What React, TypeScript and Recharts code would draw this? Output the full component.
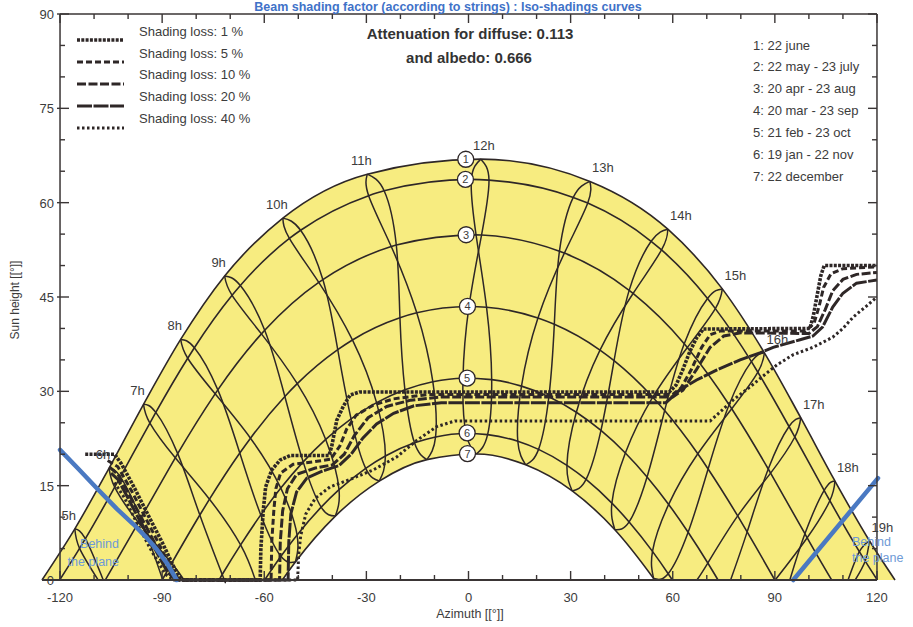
import React from "react";
import { ComposedChart, Area, Line, Scatter, XAxis, YAxis, ReferenceLine, ReferenceDot } from "recharts";

type P = [number, number]; // [azimuth °, sun height °]

// ---- sun path (date) curves ----
const curve1: P[] = [[-125.3,0],[-115.65,8.14],[-105.58,17.8],[-95.47,27.94],[-84.56,38.25],[-71.64,48.34],[-54.54,57.54],[-29.74,64.53],[3.63,66.92],[35.67,63.38],[58.56,55.78],[74.57,46.29],[86.93,36.12],[97.6,25.81],[107.65,15.75],[117.78,6.24],[125.3,0]];
const curve2: P[] = [[-120.11,0],[-114.26,5.03],[-112.55,6.57],[-103.94,14.77],[-102.27,16.41],[-93.6,24.96],[-91.86,26.65],[-82.49,35.26],[-80.53,36.93],[-69.45,45.27],[-67.03,46.83],[-52.62,54.31],[-49.32,55.61],[-29.33,61.11],[-24.79,61.89],[0.85,63.7],[6.02,63.59],[30.77,60.84],[35.03,59.93],[53.65,53.86],[56.71,52.48],[70.22,44.76],[72.52,43.15],[83.12,34.72],[85.01,33.04],[94.16,24.41],[95.87,22.74],[104.48,14.24],[106.15,12.61],[114.82,4.52],[116.55,3.01],[120.11,0]];
const curve3: P[] = [[-106.69,0],[-96.98,9.13],[-96.3,9.78],[-86.14,19.43],[-85.43,20.09],[-74.43,29.6],[-73.64,30.23],[-60.83,39.14],[-59.87,39.71],[-43.99,47.33],[-42.79,47.77],[-22.7,53.03],[-21.21,53.27],[2.22,54.88],[3.83,54.85],[26.72,52.28],[28.17,51.98],[47.2,46.05],[48.34,45.56],[63.38,37.56],[64.29,36.97],[76.56,27.87],[77.33,27.23],[88.06,17.65],[88.75,17.0],[98.83,7.36],[99.5,6.71],[106.69,0]];
const curve4: P[] = [[-90,0],[-87.21,2.65],[-78.93,10.33],[-76.09,12.85],[-67.19,20.19],[-64.05,22.55],[-53.95,29.18],[-50.31,31.22],[-38.41,36.63],[-34.1,38.17],[-20.14,41.7],[-15.2,42.48],[0.14,43.5],[5.3,43.38],[20.4,41.65],[25.21,40.65],[38.63,36.55],[42.76,34.87],[54.13,29.07],[57.62,26.94],[67.36,20.07],[70.39,17.66],[79.08,10.19],[81.86,7.65],[90,0]];
const curve5: P[] = [[-73.31,0],[-72.35,0.87],[-66.95,5.58],[-61.03,10.35],[-55.14,14.61],[-48.57,18.78],[-41.95,22.35],[-34.5,25.63],[-27.01,28.2],[-18.69,30.26],[-10.48,31.53],[-1.62,32.09],[6.81,31.86],[15.57,30.83],[23.61,29.14],[31.68,26.68],[38.91,23.78],[46.08,20.2],[52.46,16.39],[58.81,12.02],[64.52,7.59],[70.3,2.7],[73.31,0]];
const curve6: P[] = [[-59.89,0],[-55.1,3.77],[-50.36,7.16],[-43.28,11.58],[-38.04,14.36],[-30.2,17.76],[-24.42,19.72],[-15.87,21.81],[-9.67,22.75],[-0.72,23.3],[5.61,23.11],[14.48,22.06],[20.58,20.77],[28.92,18.24],[34.54,15.99],[42.12,12.23],[47.19,9.23],[54.05,4.55],[58.66,1.0],[59.89,0]];
const curve7: P[] = [[-54.7,0],[-50.86,2.86],[-39.12,10.16],[-26.21,15.73],[-12.23,19.14],[2.34,20.03],[16.8,18.31],[30.47,14.16],[43.0,7.99],[54.39,0.23],[54.7,0]];
const dateCurves = [curve1, curve2, curve3, curve4, curve5, curve6, curve7];

// ---- hour lines, December -> June branch ----
const hourLinesDecJun: P[][] = [
  [[-107.3,0],[-112.55,6.57],[-115.65,8.14]],
  [[-89.86,0.07],[-96.3,9.78],[-102.27,16.41],[-105.58,17.8]],
  [[-71.75,0],[-72.35,0.87],[-78.93,10.33],[-85.43,20.09],[-91.86,26.65],[-95.47,27.94]],
  [[-50.86,2.86],[-55.1,3.77],[-61.03,10.35],[-67.19,20.19],[-73.64,30.23],[-80.53,36.93],[-84.56,38.25]],
  [[-39.12,10.16],[-43.28,11.58],[-48.57,18.78],[-53.95,29.18],[-59.87,39.71],[-67.03,46.83],[-71.64,48.34]],
  [[-26.21,15.73],[-30.2,17.76],[-34.5,25.63],[-38.41,36.63],[-42.79,47.77],[-49.32,55.61],[-54.54,57.54]],
  [[-12.23,19.14],[-15.87,21.81],[-18.69,30.26],[-20.14,41.7],[-21.21,53.27],[-24.79,61.89],[-29.74,64.53]],
  [[2.34,20.03],[-0.72,23.3],[-1.62,32.09],[0.14,43.5],[3.83,54.85],[6.02,63.59],[3.63,66.92]],
  [[16.8,18.31],[14.48,22.06],[15.57,30.83],[20.4,41.65],[28.17,51.98],[35.03,59.93],[35.67,63.38]],
  [[30.47,14.16],[28.92,18.24],[31.68,26.68],[38.63,36.55],[48.34,45.56],[56.71,52.48],[58.56,55.78]],
  [[43.0,7.99],[42.12,12.23],[46.08,20.2],[54.13,29.07],[64.29,36.97],[72.52,43.15],[74.57,46.29]],
  [[54.39,0.23],[54.05,4.55],[58.81,12.02],[67.36,20.07],[77.33,27.23],[85.01,33.04],[86.93,36.12]],
  [[67.1,0],[70.3,2.7],[79.08,10.19],[88.75,17.0],[95.87,22.74],[97.6,25.81]],
  [[90.1,0],[99.5,6.71],[106.15,12.61],[107.65,15.75]],
  [[113.6,0],[116.55,3.01],[117.78,6.24]],
];
// ---- hour lines, June -> December branch ----
const hourLinesJunDec: P[][] = [
  [[-115.65,8.14],[-114.26,5.03],[-108.8,0]],
  [[-105.58,17.8],[-103.94,14.77],[-96.98,9.13],[-87.21,2.65],[-83.6,0]],
  [[-95.47,27.94],[-93.6,24.96],[-86.14,19.43],[-76.09,12.85],[-66.95,5.58],[-62.6,0]],
  [[-84.56,38.25],[-82.49,35.26],[-74.43,29.6],[-64.05,22.55],[-55.14,14.61],[-50.36,7.16],[-50.86,2.86]],
  [[-71.64,48.34],[-69.45,45.27],[-60.83,39.14],[-50.31,31.22],[-41.95,22.35],[-38.04,14.36],[-39.12,10.16]],
  [[-54.54,57.54],[-52.62,54.31],[-43.99,47.33],[-34.1,38.17],[-27.01,28.2],[-24.42,19.72],[-26.21,15.73]],
  [[-29.74,64.53],[-29.33,61.11],[-22.7,53.03],[-15.2,42.48],[-10.48,31.53],[-9.67,22.75],[-12.23,19.14]],
  [[3.63,66.92],[0.85,63.7],[2.22,54.88],[5.3,43.38],[6.81,31.86],[5.61,23.11],[2.34,20.03]],
  [[35.67,63.38],[30.77,60.84],[26.72,52.28],[25.21,40.65],[23.61,29.14],[20.58,20.77],[16.8,18.31]],
  [[58.56,55.78],[53.65,53.86],[47.2,46.05],[42.76,34.87],[38.91,23.78],[34.54,15.99],[30.47,14.16]],
  [[74.57,46.29],[70.22,44.76],[63.38,37.56],[57.62,26.94],[52.46,16.39],[47.19,9.23],[43.0,7.99]],
  [[86.93,36.12],[83.12,34.72],[76.56,27.87],[70.39,17.66],[64.52,7.59],[58.66,1.0],[54.39,0.23]],
  [[97.6,25.81],[94.16,24.41],[88.06,17.65],[81.86,7.65],[77.0,0]],
  [[107.65,15.75],[104.48,14.24],[98.83,7.36],[94.4,0]],
  [[117.78,6.24],[114.82,4.52],[111.5,0]],
];

// ---- iso-shading curves ----
const loss1: P[] = [[-112.6,20],[-104,20],[-102,18.5],[-98,14.5],[-94,10.2],[-90,6],[-86.5,2],[-84.3,0],[-61.2,0],[-61,5],[-60.3,11],[-59.6,14.8],[-57.8,17.5],[-55.3,19.1],[-52.4,19.8],[-41,19.8],[-40.2,21.2],[-38.7,25.4],[-36.8,27.6],[-34.8,29.4],[-32,29.9],[59,29.9],[61,31],[63,33.5],[65,36.3],[67,38.5],[69,39.9],[100.3,40],[101.3,42],[102.4,45.2],[103.5,48.4],[104.5,50],[120,50]];
const loss5: P[] = [[-106,19],[-103,18],[-99,14.2],[-95,10],[-91,5.8],[-87.5,2],[-85,0],[-58,0],[-57.8,6],[-57.2,11],[-56.6,14.5],[-55.2,17],[-51.5,18.4],[-45.5,18.8],[-40.5,19.2],[-37.8,21.3],[-35.8,24],[-33,26.2],[-28,27.8],[-22,28.8],[-12,29.5],[60,29.5],[62.5,30.6],[65.5,33.5],[68.5,37],[71,39],[74,39.6],[99,39.6],[101.5,40.8],[103,43.5],[104.3,46.5],[106.5,48.7],[110,49.5],[120,49.8]];
const loss10: P[] = [[-105.5,18],[-103,16.8],[-99.5,13.4],[-95.5,9.3],[-91.5,5.2],[-88,1.6],[-85.5,0],[-55.5,0],[-55.3,6],[-54.6,11],[-53.2,14.5],[-50.5,16.8],[-45,17.8],[-40,18.3],[-36.5,20],[-33.5,23],[-29.5,25.8],[-24,27.6],[-17,28.6],[-8,29.1],[60,29.1],[63,30.2],[67,33.5],[71,37],[75,38.8],[80,39.3],[100,39.2],[102.5,40.3],[104.8,43],[107,46],[110,47.8],[114,48.6],[120,48.9]];
const loss20: P[] = [[-105,17],[-103,16],[-100,13],[-96,8.8],[-92,4.8],[-88.5,1.3],[-86,0],[-53,0],[-52.8,6],[-52.2,10.5],[-50.5,14],[-47.5,16.2],[-43,17.3],[-38,18.2],[-34.5,20],[-31,22.6],[-27,24.8],[-22,26.5],[-16,27.7],[-8,28.2],[58,28.2],[62,30.2],[67,31.8],[73,33.4],[79.8,35],[85.6,36.1],[89.5,37],[97.4,38.2],[101.2,38.8],[104,40.2],[107,43.4],[110,45.6],[114,47.2],[120,47.7]];
const loss40: P[] = [[-104,15.5],[-101,13],[-97,8.6],[-93,4.5],[-89,0.9],[-86.5,0],[-50.2,0],[-49.9,4],[-49.3,7],[-47.8,10.5],[-45,13],[-40.7,14.8],[-34.8,16],[-28,17.5],[-21,19.6],[-15.2,22.2],[-9.3,24.4],[-4,25.3],[71,25.3],[74.5,27],[77.7,28.6],[82.7,30.7],[87.6,32.9],[90.6,34.2],[95.3,35.8],[101.2,37],[107,38.6],[110,40],[113,41.8],[117,43.6],[120,45]];
const lossCurves = [loss1, loss5, loss10, loss20, loss40];
const lossLabels = ["Shading loss: 1 %", "Shading loss: 5 %", "Shading loss: 10 %", "Shading loss: 20 %", "Shading loss: 40 %"];

// ---- "behind the plane" limits ----
const planeLeft: P[] = [[-120,20.7],[-114.5,17.6],[-109.2,14.6],[-103.3,11.3],[-98.5,8.9],[-94.5,6.7],[-91.5,4.8],[-88.5,2.6],[-85.7,0]];
const planeRight: P[] = [[95.4,0],[120.3,16.2]];

// ---- labels ----
const hourNames = ["5h","6h","7h","8h","9h","10h","11h","12h","13h","14h","15h","16h","17h","18h","19h"];
const hourAnchors: P[] = [[-115.65,8.14],[-105.58,17.8],[-95.47,27.94],[-84.56,38.25],[-71.64,48.34],[-54.54,57.54],[-29.74,64.53],[3.63,66.92],[35.67,63.38],[58.56,55.78],[74.57,46.29],[86.93,36.12],[97.6,25.81],[107.65,15.75],[117.78,6.24]];
const circleNames = ["1","2","3","4","5","6","7"];
const circlePoints: P[] = [[-0.8,66.9],[-0.9,63.7],[-0.7,54.9],[-0.3,43.5],[-0.4,32.1],[-0.4,23.4],[-0.3,20.1]];
const dateLabels = ["1: 22 june","2: 22 may - 23 july","3: 20 apr - 23 aug","4: 20 mar - 23 sep","5: 21 feb - 23 oct","6: 19 jan - 22 nov","7: 22 december"];
const xTicks = [-120,-110,-100,-90,-80,-70,-60,-50,-40,-30,-20,-10,0,10,20,30,40,50,60,70,80,90,100,110,120];
const yTicks = [0,5,10,15,20,25,30,35,40,45,50,55,60,65,70,75,80,85,90];

const FONT = "'Liberation Sans', Arial, Helvetica, sans-serif";
const DARK = "#2e2727";
const AXIS = "#3a3535";
const TXT = "#3c3c3c";
const YELLOW = "#f7ec80";
const BLUE = "#4a79c2";
const lossStyles = [
  { w: 3.6, dash: "3 1.3" },
  { w: 3, dash: "6 3" },
  { w: 3, dash: "9 2.5" },
  { w: 3, dash: "15 1.5" },
  { w: 3, dash: "2.5 2.5" },
];

const rows = (pts: P[]) => pts.map(([az, alt]) => ({ az, alt }));

const BottomTick = (props: any) => {
  const { x, y, payload } = props;
  const v = Number(payload.value);
  const major = v % 30 === 0;
  return (
    <g>
      <line x1={x} x2={x} y1={y} y2={y - (major ? 9 : 5)} stroke={AXIS} strokeWidth={1.4} />
      {major ? (
        <text x={x} y={y + 22} textAnchor="middle" fontSize={13} fontFamily={FONT} fill={TXT}>{v}</text>
      ) : null}
    </g>
  );
};

const HourLabel = (props: any) => {
  const { cx, cy, payload } = props;
  const az = payload.az;
  const dx = az < -20 ? -6 : az < 20 ? 3 : 13;
  return (
    <text x={cx + dx} y={cy - 9} textAnchor="middle" fontSize={13} fontFamily={FONT} fill={TXT}>{payload.name}</text>
  );
};

const CircleLabel = (props: any) => {
  const { cx, cy, payload } = props;
  return (
    <g>
      <circle cx={cx} cy={cy} r={8} fill="#ffffff" stroke={DARK} strokeWidth={1.3} />
      <text x={cx} y={cy + 4} textAnchor="middle" fontSize={11} fontFamily={FONT} fill={TXT}>{payload.name}</text>
    </g>
  );
};

export default function App() {
  const hourRows = hourAnchors.map(([az, alt], i) => ({ az, alt, name: hourNames[i] }));
  const circleRows = circlePoints.map(([az, alt], i) => ({ az, alt, name: circleNames[i] }));
  const lineProps = { dot: false, activeDot: false, isAnimationActive: false, dataKey: "alt" } as any;
  return (
    <div style={{ position: "absolute", left: 0, top: 0, width: 913, height: 627, background: "#ffffff", overflow: "hidden" }}>
      <ComposedChart width={913} height={627} margin={{ top: 14, right: 15.6, bottom: 0, left: 39.6 }}>
        <Area data={rows(curve1)} dataKey="alt" type="monotone" fill={YELLOW} fillOpacity={1} stroke="none" isAnimationActive={false} activeDot={false} />
        <Area data={rows(curve7)} dataKey="alt" type="monotone" fill="#ffffff" fillOpacity={1} stroke="none" isAnimationActive={false} activeDot={false} />
        <XAxis type="number" dataKey="az" domain={[-126, 126]} ticks={xTicks} interval={0} tickLine={false} axisLine={false} tickSize={0} tickMargin={0} height={47} tick={BottomTick} />
        <YAxis type="number" dataKey="alt" domain={[0, 90]} hide width={0} />
        {dateCurves.map((c, i) => (
          <Line key={"d" + i} {...lineProps} data={rows(c)} type="monotone" stroke={DARK} strokeWidth={1.6} />
        ))}
        {hourLinesDecJun.concat(hourLinesJunDec).map((c, i) => (
          <Line key={"h" + i} {...lineProps} data={rows(c)} type="natural" stroke={DARK} strokeWidth={1.5} />
        ))}
        {lossCurves.map((c, i) => (
          <Line key={"l" + i} {...lineProps} data={rows(c)} type="linear" stroke={DARK} strokeWidth={lossStyles[i].w} strokeDasharray={lossStyles[i].dash} />
        ))}
        <Line {...lineProps} data={rows(planeLeft)} type="linear" stroke={BLUE} strokeWidth={4.5} strokeLinecap="round" strokeLinejoin="round" />
        <Line {...lineProps} data={rows(planeRight)} type="linear" stroke={BLUE} strokeWidth={4.5} strokeLinecap="round" />
        <Scatter data={circleRows} shape={CircleLabel} isAnimationActive={false} />
        <Scatter data={hourRows} shape={HourLabel} isAnimationActive={false} />
        <ReferenceLine x={-120} stroke={AXIS} strokeWidth={1.5} ifOverflow="visible" />
        <ReferenceLine x={120} stroke={AXIS} strokeWidth={1.5} ifOverflow="visible" />
        <ReferenceLine segment={[{ x: -120, y: 90 }, { x: 120, y: 90 }]} stroke={AXIS} strokeWidth={1.5} ifOverflow="visible" />
        <ReferenceLine segment={[{ x: -125.3, y: 0 }, { x: 120, y: 0 }]} stroke={AXIS} strokeWidth={1.8} ifOverflow="visible" />
        {xTicks.map((v) => (
          <ReferenceDot key={"tt" + v} x={v} y={90} r={0} ifOverflow="visible"
            shape={(p: any) => <line x1={p.cx} x2={p.cx} y1={p.cy} y2={p.cy + (v % 30 === 0 ? 9 : 5)} stroke={AXIS} strokeWidth={1.4} />} />
        ))}
        {yTicks.map((v) => (
          <ReferenceDot key={"ly" + v} x={-120} y={v} r={0} ifOverflow="visible"
            shape={(p: any) => (
              <g>
                <line x1={p.cx - (v % 15 === 0 ? 3 : 0)} x2={p.cx + (v % 15 === 0 ? 9 : 5)} y1={p.cy} y2={p.cy} stroke={AXIS} strokeWidth={1.4} />
                {v % 15 === 0 ? (
                  <text x={p.cx - 6} y={p.cy + 5} textAnchor="end" fontSize={13} fontFamily={FONT} fill={TXT}>{v}</text>
                ) : null}
              </g>
            )} />
        ))}
        {yTicks.map((v) => (
          <ReferenceDot key={"ry" + v} x={120} y={v} r={0} ifOverflow="visible"
            shape={(p: any) => <line x1={p.cx} x2={p.cx - (v % 15 === 0 ? 9 : 5)} y1={p.cy} y2={p.cy} stroke={AXIS} strokeWidth={1.4} />} />
        ))}
      </ComposedChart>
      <svg width={913} height={627} style={{ position: "absolute", left: 0, top: 0, pointerEvents: "none" }}>
        <text x={448} y={11} textAnchor="middle" fontSize={12.5} fontWeight="bold" fontFamily={FONT} fill="#3f72c8">Beam shading factor (according to strings) : Iso-shadings curves</text>
        <text x={470} y={39} textAnchor="middle" fontSize={15} fontWeight="bold" fontFamily={FONT} fill="#333333">Attenuation for diffuse: 0.113</text>
        <text x={469} y={63} textAnchor="middle" fontSize={15} fontWeight="bold" fontFamily={FONT} fill="#333333">and albedo: 0.666</text>
        {lossLabels.map((t, i) => (
          <g key={"lg" + i}>
            <line x1={77} x2={124} y1={40 + i * 22} y2={40 + i * 22} stroke={DARK} strokeWidth={lossStyles[i].w} strokeDasharray={lossStyles[i].dash} />
            <text x={139} y={36 + i * 21.7} fontSize={13} fontFamily={FONT} fill={TXT}>{t}</text>
          </g>
        ))}
        {dateLabels.map((t, i) => (
          <text key={"dl" + i} x={753} y={49.5 + i * 21.9} fontSize={13} fontFamily={FONT} fill={TXT}>{t}</text>
        ))}
        <text x={119} y={548} textAnchor="end" fontSize={12.5} fontFamily={FONT} fill="#6e9ad6">Behind</text>
        <text x={119} y={566} textAnchor="end" fontSize={12.5} fontFamily={FONT} fill="#6e9ad6">the plane</text>
        <text x={852} y={546} fontSize={12.5} fontFamily={FONT} fill="#6e9ad6">Behind</text>
        <text x={852} y={562} fontSize={12.5} fontFamily={FONT} fill="#6e9ad6">the plane</text>
        <text transform="translate(19,300) rotate(-90)" textAnchor="middle" fontSize={12} fontFamily={FONT} fill={TXT}>Sun height [[°]]</text>
        <text x={470} y={618} textAnchor="middle" fontSize={12.5} fontFamily={FONT} fill={TXT}>Azimuth [[°]]</text>
      </svg>
    </div>
  );
}
